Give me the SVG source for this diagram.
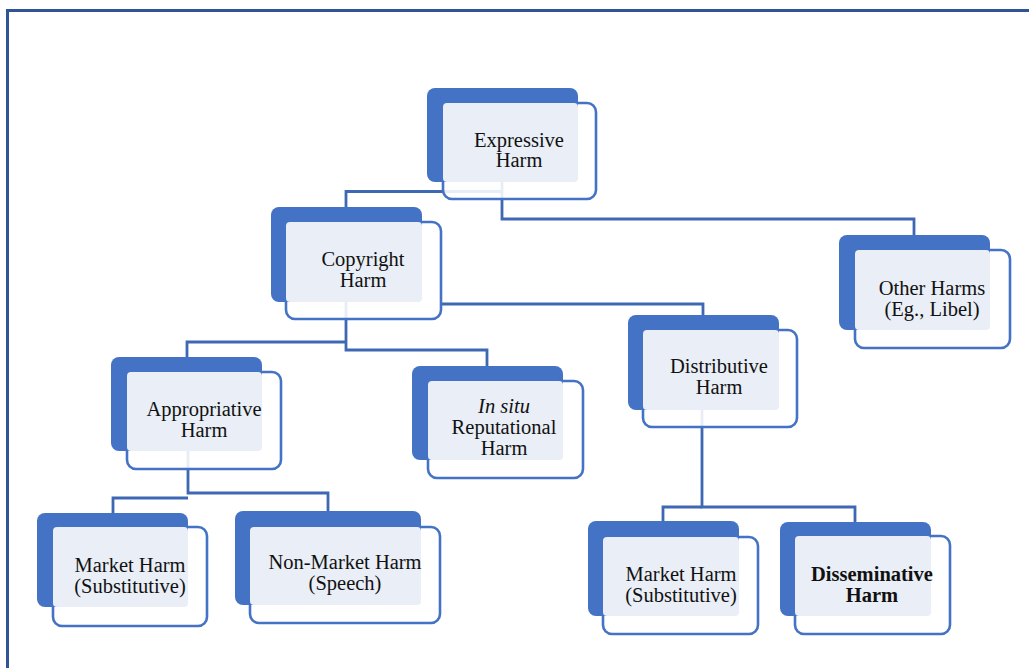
<svg xmlns="http://www.w3.org/2000/svg" width="1029" height="668" viewBox="0 0 1029 668">
<defs>
<style>
.frame{fill:none;stroke:#2F5597;stroke-width:3}
.conn{fill:none;stroke:#3F68B4;stroke-width:2.8}
.front{fill:#ffffff;fill-opacity:0.88;stroke:#4472C4;stroke-width:2.6}
.back{fill:#4472C4}
.light{fill:#E9EEF7}
.t{font-family:"Liberation Serif","Times New Roman",serif;font-size:20.5px;fill:#111;text-anchor:middle}
.b{font-weight:bold}
.i{font-style:italic}
</style>
</defs>
<rect width="1029" height="668" fill="#ffffff"/>
<rect class="frame" x="7.5" y="10.5" width="1040" height="680"/>
<g id="connectors">
<path class="conn" d="M346,207 V191.5 H502"/>
<path class="conn" d="M502,182 V219 H914 V235"/>
<path class="conn" d="M441,304 H703 V315"/>
<path class="conn" d="M346,302 V350 H487 V366"/>
<path class="conn" d="M346,342 H187 V357"/>
<path class="conn" d="M188,451 V493 H328 V511"/>
<path class="conn" d="M188,498 H113 V513"/>
<path class="conn" d="M702,410 V507 H855 V522"/>
<path class="conn" d="M702,507 H663 V521"/>
</g>
<g id="expressive">
<rect class="front" x="443" y="103" width="153" height="96" rx="9"/>
<rect class="back" x="427" y="88" width="151" height="94" rx="8"/>
<rect class="light" x="443" y="103" width="135" height="79" rx="4"/>
<text class="t" x="519" y="147">Expressive</text>
<text class="t" x="519" y="167">Harm</text>
</g>
<g id="copyright">
<rect class="front" x="286" y="222" width="155" height="97" rx="9"/>
<rect class="back" x="271" y="207" width="151" height="95" rx="8"/>
<rect class="light" x="286" y="222" width="136" height="80" rx="4"/>
<text class="t" x="363" y="266">Copyright</text>
<text class="t" x="363" y="287">Harm</text>
</g>
<g id="other">
<rect class="front" x="855" y="250" width="155" height="98" rx="9"/>
<rect class="back" x="839" y="235" width="151" height="95" rx="8"/>
<rect class="light" x="855" y="250" width="135" height="80" rx="4"/>
<text class="t" x="932" y="295">Other Harms</text>
<text class="t" x="932" y="316">(Eg., Libel)</text>
</g>
<g id="distributive">
<rect class="front" x="643" y="330" width="154" height="97" rx="9"/>
<rect class="back" x="628" y="315" width="151" height="95" rx="8"/>
<rect class="light" x="643" y="330" width="136" height="80" rx="4"/>
<text class="t" x="719" y="373">Distributive</text>
<text class="t" x="719" y="394">Harm</text>
</g>
<g id="appropriative">
<rect class="front" x="127" y="372" width="154" height="97" rx="9"/>
<rect class="back" x="111" y="357" width="151" height="94" rx="8"/>
<rect class="light" x="127" y="372" width="135" height="79" rx="4"/>
<text class="t" x="204" y="416">Appropriative</text>
<text class="t" x="204" y="437">Harm</text>
</g>
<g id="insitu">
<rect class="front" x="428" y="381" width="155" height="97" rx="9"/>
<rect class="back" x="412" y="366" width="151" height="94" rx="8"/>
<rect class="light" x="428" y="381" width="135" height="79" rx="4"/>
<text class="t i" x="504" y="413">In situ</text>
<text class="t" x="504" y="434">Reputational</text>
<text class="t" x="504" y="455">Harm</text>
</g>
<g id="market-left">
<rect class="front" x="53" y="527" width="154" height="99" rx="9"/>
<rect class="back" x="37" y="513" width="151" height="94" rx="8"/>
<rect class="light" x="53" y="527" width="135" height="80" rx="4"/>
<text class="t" x="130" y="572">Market Harm</text>
<text class="t" x="130" y="593">(Substitutive)</text>
</g>
<g id="nonmarket">
<rect class="front" x="250" y="527" width="190" height="96" rx="9"/>
<rect class="back" x="235" y="511" width="186" height="94" rx="8"/>
<rect class="light" x="250" y="527" width="171" height="78" rx="4"/>
<text class="t" x="345" y="569">Non-Market Harm</text>
<text class="t" x="345" y="590">(Speech)</text>
</g>
<g id="market-right">
<rect class="front" x="603" y="537" width="155" height="97" rx="9"/>
<rect class="back" x="588" y="521" width="151" height="95" rx="8"/>
<rect class="light" x="603" y="537" width="136" height="79" rx="4"/>
<text class="t" x="681" y="581">Market Harm</text>
<text class="t" x="681" y="602">(Substitutive)</text>
</g>
<g id="disseminative">
<rect class="front" x="795" y="536" width="155" height="98" rx="9"/>
<rect class="back" x="780" y="522" width="151" height="94" rx="8"/>
<rect class="light" x="795" y="536" width="136" height="80" rx="4"/>
<text class="t b" x="872" y="581">Disseminative</text>
<text class="t b" x="872" y="602">Harm</text>
</g>
</svg>
